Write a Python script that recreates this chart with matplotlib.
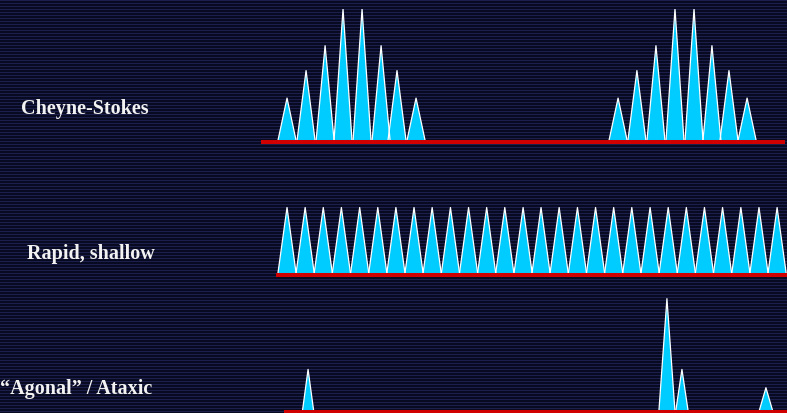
import matplotlib.pyplot as plt
import numpy as np

# ── Breathing patterns (time in breath units, amplitude relative to max) ──
cs_times = [1.75, 2.79, 3.83, 4.81, 5.85, 6.89, 7.76, 8.80,
            19.84, 20.87, 21.91, 22.95, 23.99, 24.97, 25.90, 26.89]
cs_amps = [0.32, 0.53, 0.72, 1.0, 1.0, 0.72, 0.53, 0.32,
           0.32, 0.53, 0.72, 1.0, 1.0, 0.72, 0.53, 0.32]
cs_widths = [0.98] * 16
cs_span = [0.33, 28.96]

rs_times = [1.75, 2.74, 3.73, 4.72, 5.72, 6.71, 7.70, 8.69, 9.68, 10.68,
            11.67, 12.66, 13.65, 14.65, 15.63, 16.62, 17.62, 18.61, 19.60,
            20.59, 21.59, 22.58, 23.57, 24.56, 25.55, 26.55, 27.54, 28.53]
rs_amps = [0.50] * 28
rs_widths = [0.99] * 28
rs_span = [1.15, 29.1]

ag_times = [2.90, 22.51, 23.33, 27.92]
ag_amps = [0.31, 0.85, 0.31, 0.17]
ag_widths = [0.60, 0.87, 0.66, 0.71]
ag_span = [1.58, 29.1]

labels = ["Cheyne-Stokes", "Rapid, shallow", "\u201cAgonal\u201d / Ataxic"]

W, H, DPI = 787, 413, 100
BG_DARK = '#070a20'
BG_LIGHT = '#1c1e4c'
CYAN = '#00ccff'
RED = '#d00000'

fig = plt.figure(figsize=(W / DPI, H / DPI), dpi=DPI)

# ── striped background ──
ax_bg = fig.add_axes([0, 0, 1, 1])
rows = np.zeros((H, 1, 3))
dark = np.array([int(BG_DARK[i:i + 2], 16) for i in (1, 3, 5)]) / 255
light = np.array([int(BG_LIGHT[i:i + 2], 16) for i in (1, 3, 5)]) / 255
for r in range(H):
    rows[r, 0] = light if r % 3 == 0 else dark
ax_bg.imshow(rows, aspect='auto', interpolation='nearest', extent=[0, 1, 0, 1])
ax_bg.set_axis_off()

# ── one axes per pattern ──
PX_PER_T = 18.3
PX_PER_A = 131.0
X0_PX = 255
XMAX = (W - X0_PX) / PX_PER_T


def pattern_axes(base_px):
    bottom_px = base_px + 0.1 * PX_PER_A
    ax = fig.add_axes([X0_PX / W, (H - bottom_px) / H,
                       (W - X0_PX) / W, 1.1 * PX_PER_A / H])
    ax.set_xlim(0, XMAX)
    ax.set_ylim(-0.1, 1.0)
    ax.set_axis_off()
    ax.patch.set_alpha(0)
    return ax


patterns = [
    (140, cs_times, cs_amps, cs_widths, cs_span),
    (273, rs_times, rs_amps, rs_widths, rs_span),
    (410, ag_times, ag_amps, ag_widths, ag_span),
]

for base_px, times, amps, widths, span in patterns:
    ax = pattern_axes(base_px)
    for t, a, w in zip(times, amps, widths):
        xs = [t - w / 2, t, t + w / 2]
        ys = [0, a, 0]
        ax.fill(xs, ys, color=CYAN, lw=0, zorder=2)
        ax.plot(xs, ys, color='white', lw=0.9, zorder=3)
    ax.plot(span, [-0.016, -0.016], color=RED, lw=2.9,
            solid_capstyle='butt', zorder=4)

# ── labels ──
label_pos = [(149, 114), (155, 259), (152, 394)]
for txt, (xr, yb) in zip(labels, label_pos):
    fig.text(xr / W, 1 - yb / H, txt, ha='right', va='baseline',
             color='#f2f2f2', fontsize=14.5, fontweight='bold',
             family='Liberation Serif')

fig.savefig('out.png', dpi=DPI)
